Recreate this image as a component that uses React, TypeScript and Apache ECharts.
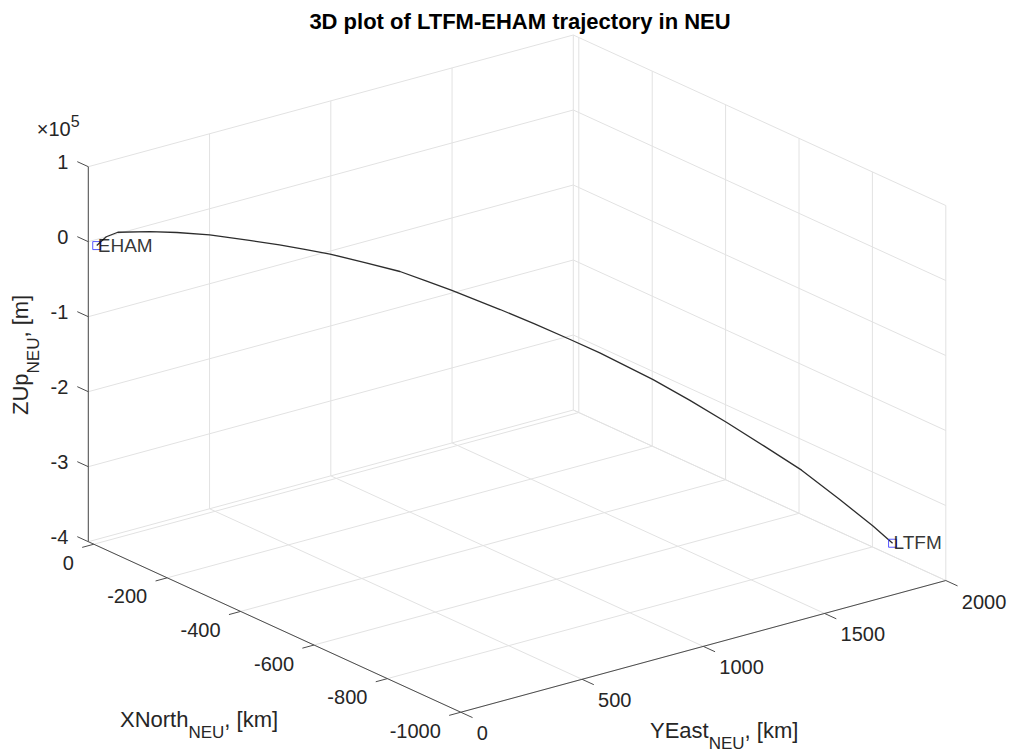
import React, { useEffect, useRef } from "react";
import * as echarts from "echarts";

// ---- axis ticks (data units) ----
const xTicks = [-1000, -800, -600, -400, -200, 0]; // XNorth, km
const xTickLabels = ["-1000", "-800", "-600", "-400", "-200", "0"];
const yTicks = [0, 500, 1000, 1500, 2000]; // YEast, km
const yTickLabels = ["0", "500", "1000", "1500", "2000"];
const zTicks = [-400000, -300000, -200000, -100000, 0, 100000]; // ZUp, m
const zTickLabels = ["-4", "-3", "-2", "-1", "0", "1"];

// ---- axis limits ----
const xLimits = [-1000, 15];
const yLimits = [0, 2000];
const zLimits = [-400000, 100000];

// ---- trajectory LTFM-EHAM in NEU ----
const trajNorth = [-8, -1, -6, -33, -56, -85, -126, -155, -175, -195, -230, -266, -303, -340, -420, -457, -495, -527, -597, -659, -721, -760, -800, -835, -865, -888];
const trajEast = [0, 50, 90, 182, 258, 349, 451, 531, 605, 679, 770, 860, 911, 962, 1040, 1126, 1213, 1289, 1403, 1461, 1519, 1613, 1708, 1811, 1904, 1950];
const trajUp = [0, 5800, 9400, 8300, 5500, 900, -6250, -12900, -20700, -29000, -40600, -52300, -60900, -69800, -84300, -102700, -122300, -140000, -170000, -188800, -209600, -240300, -272000, -312100, -349000, -371000];

// ---- airports ----
const airportNames = ["EHAM", "LTFM"];
const airportNorth = [-8, -888];
const airportEast = [0, 1950];
const airportUp = [0, -371000];

// ---- view (orthographic projection, az -37.5 / el 30 look) ----
const VIEW = { ox: 88.3, oy: 541.7, ux: 0.367, uy: 0.168, vx: 0.2425, vy: -0.06585, zs: 0.00075 };
const FONT = '"Liberation Sans", Arial, Helvetica, sans-serif';

function project(x: number, y: number, z: number): [number, number] {
  const p = xLimits[1] - x;
  const q = y - yLimits[0];
  const h = z - zLimits[0];
  return [VIEW.ox + p * VIEW.ux + q * VIEW.vx, VIEW.oy + p * VIEW.uy + q * VIEW.vy - h * VIEW.zs];
}

export default function App() {
  const ref = useRef<HTMLDivElement>(null);

  useEffect(() => {
    document.body.style.margin = "0";
    const chart = echarts.init(ref.current as HTMLDivElement, null, { renderer: "svg" });

    const ctx = document.createElement("canvas").getContext("2d") as CanvasRenderingContext2D;
    const textWidth = (t: string, font: string) => {
      ctx.font = font;
      return ctx.measureText(t).width;
    };

    const [xmin, xmax] = xLimits;
    const [ymin, ymax] = yLimits;
    const [zmin, zmax] = zLimits;

    const mkSeg = (arr: number[][], a: number[], b: number[]) => {
      const p1 = project(a[0], a[1], a[2]);
      const p2 = project(b[0], b[1], b[2]);
      arr.push([p1[0], p1[1], p2[0], p2[1]]);
    };

    // grid lines
    const gridSegs: number[][] = [];
    xTicks.forEach((x) => mkSeg(gridSegs, [x, ymin, zmin], [x, ymax, zmin]));
    yTicks.forEach((y) => mkSeg(gridSegs, [xmin, y, zmin], [xmax, y, zmin]));
    yTicks.forEach((y) => mkSeg(gridSegs, [xmax, y, zmin], [xmax, y, zmax]));
    zTicks.forEach((z) => mkSeg(gridSegs, [xmax, ymin, z], [xmax, ymax, z]));
    xTicks.forEach((x) => mkSeg(gridSegs, [x, ymax, zmin], [x, ymax, zmax]));
    zTicks.forEach((z) => mkSeg(gridSegs, [xmin, ymax, z], [xmax, ymax, z]));

    // axis lines and ticks
    const axisSegs: number[][] = [];
    mkSeg(axisSegs, [xmax, ymin, zmin], [xmax, ymin, zmax]);
    mkSeg(axisSegs, [xmax, ymin, zmin], [xmin, ymin, zmin]);
    mkSeg(axisSegs, [xmin, ymin, zmin], [xmin, ymax, zmin]);
    zTicks.forEach((z) => mkSeg(axisSegs, [xmax, ymin, z], [xmax + 30, ymin, z]));
    xTicks.forEach((x) => mkSeg(axisSegs, [x, ymin, zmin], [x, ymin - 48, zmin]));
    yTicks.forEach((y) => mkSeg(axisSegs, [xmin, y, zmin], [xmin - 32, y, zmin]));

    const zLabelPts = zTicks.map((z) => project(xmax, ymin, z));
    const xLabelPts = xTicks.map((x) => project(x, ymin, zmin));
    const yLabelPts = yTicks.map((y) => project(xmin, y, zmin));

    const trajPts = trajNorth.map((n, i) => project(n, trajEast[i], trajUp[i]));
    const airportPts = airportNames.map((name, i) => ({
      name,
      value: project(airportNorth[i], airportEast[i], airportUp[i]),
    }));

    const segRender = (color: string, width: number) => (params: any, api: any) => {
      const a = api.coord([api.value(0), api.value(1)]);
      const b = api.coord([api.value(2), api.value(3)]);
      return {
        type: "line",
        shape: { x1: a[0], y1: a[1], x2: b[0], y2: b[1] },
        style: { stroke: color, lineWidth: width },
        silent: true,
      };
    };

    const textRender = (labels: string[], dx: number, dy: number, align: string) => (params: any, api: any) => {
      const p = api.coord([api.value(0), api.value(1)]);
      return {
        type: "text",
        x: p[0] + dx,
        y: p[1] + dy,
        style: {
          text: labels[params.dataIndex],
          font: `20px ${FONT}`,
          fill: "#262626",
          align,
          verticalAlign: "middle",
        },
        silent: true,
      };
    };

    const mainFont = `22px ${FONT}`;
    const subFont = `17px ${FONT}`;
    const subLabel = (main: string, sub: string, rest: string, x: number, y: number, rotation: number) => {
      const w1 = textWidth(main, mainFont);
      const w2 = textWidth(sub, subFont);
      const st = (text: string, font: string) => ({ text, font, fill: "#262626", align: "left", verticalAlign: "middle" });
      return {
        type: "group",
        x,
        y,
        rotation,
        silent: true,
        children: [
          { type: "text", x: 0, y: 0, style: st(main, mainFont) },
          { type: "text", x: w1, y: 13, style: st(sub, subFont) },
          { type: "text", x: w1 + w2, y: 0, style: st(rest, mainFont) },
        ],
      };
    };

    const expFont = `20px ${FONT}`;
    const expW = textWidth("\u00d710", expFont);

    const option: any = {
      animation: false,
      backgroundColor: "#ffffff",
      grid: { left: 0, right: 0, top: 0, bottom: 0, containLabel: false },
      xAxis: { type: "value", min: 0, max: 1013, show: false },
      yAxis: { type: "value", min: 0, max: 752, inverse: true, show: false },
      graphic: [
        {
          type: "text",
          x: 520,
          y: 21,
          silent: true,
          style: {
            text: "3D plot of LTFM-EHAM trajectory in NEU",
            font: `bold 22px ${FONT}`,
            fill: "#000000",
            align: "center",
            verticalAlign: "middle",
          },
        },
        subLabel("XNorth", "NEU", ", [km]", 120, 719, 0),
        subLabel("YEast", "NEU", ", [km]", 650, 730, 0),
        subLabel("ZUp", "NEU", ", [m]", 20, 415, Math.PI / 2),
        {
          type: "text",
          x: 36.7,
          y: 129,
          silent: true,
          style: { text: "\u00d710", font: expFont, fill: "#262626", align: "left", verticalAlign: "middle" },
        },
        {
          type: "text",
          x: 36.7 + expW,
          y: 121,
          silent: true,
          style: { text: "5", font: `16px ${FONT}`, fill: "#262626", align: "left", verticalAlign: "middle" },
        },
      ],
      series: [
        {
          type: "custom",
          z: 1,
          silent: true,
          data: gridSegs,
          encode: { x: [0, 2], y: [1, 3] },
          renderItem: segRender("#e2e2e2", 1),
        },
        {
          type: "custom",
          z: 3,
          silent: true,
          data: axisSegs,
          encode: { x: [0, 2], y: [1, 3] },
          renderItem: segRender("#4d4d4d", 1),
        },
        {
          type: "custom",
          z: 3,
          silent: true,
          data: zLabelPts,
          encode: { x: 0, y: 1 },
          renderItem: textRender(zTickLabels, -20, -5, "right"),
        },
        {
          type: "custom",
          z: 3,
          silent: true,
          data: xLabelPts,
          encode: { x: 0, y: 1 },
          renderItem: textRender(xTickLabels, -20, 18.5, "right"),
        },
        {
          type: "custom",
          z: 3,
          silent: true,
          data: yLabelPts,
          encode: { x: 0, y: 1 },
          renderItem: textRender(yTickLabels, 16, 21, "left"),
        },
        {
          type: "line",
          z: 4,
          silent: true,
          data: trajPts,
          showSymbol: false,
          symbol: "none",
          lineStyle: { color: "#2d2d2d", width: 1.3 },
        },
        {
          type: "scatter",
          z: 5,
          silent: true,
          data: airportPts,
          symbol: "rect",
          symbolSize: 8,
          itemStyle: { color: "rgba(0,0,0,0)", borderColor: "#2f2fff", borderWidth: 1 },
          label: {
            show: true,
            formatter: (p: any) => p.name,
            position: [5.5, 4],
            align: "left",
            verticalAlign: "middle",
            color: "#000000",
            fontFamily: FONT,
            fontSize: 19,
          },
        },
      ],
    };

    chart.setOption(option);
    return () => chart.dispose();
  }, []);

  return <div ref={ref} style={{ width: 1013, height: 752 }} />;
}
